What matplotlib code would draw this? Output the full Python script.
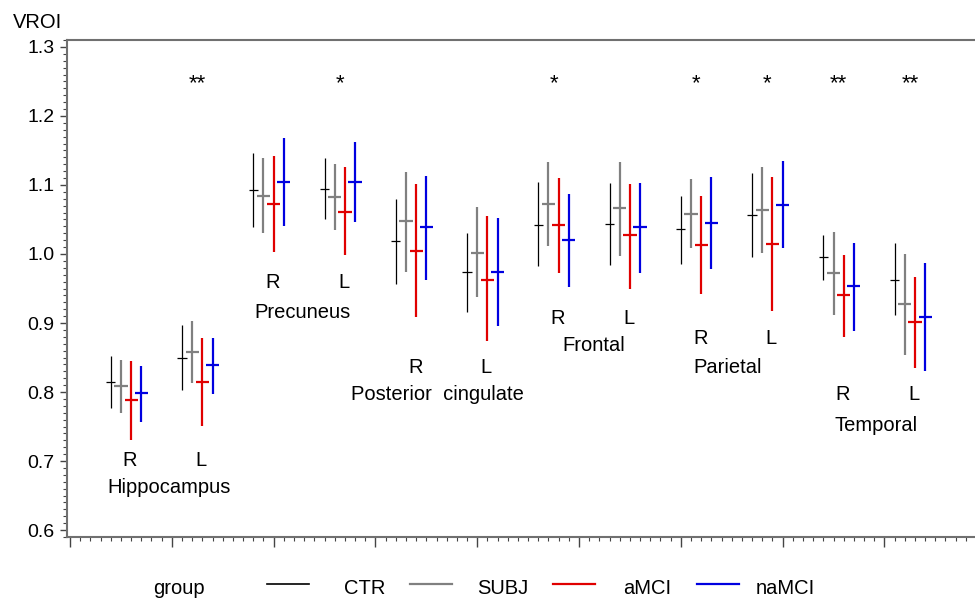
import numpy as np
import matplotlib
matplotlib.use('Agg')
import matplotlib.pyplot as plt
from matplotlib.lines import Line2D
from matplotlib.ticker import MultipleLocator, NullFormatter

plt.rcParams['font.family'] = ['Liberation Sans', 'DejaVu Sans']

# region / side order along the x axis
regions = ['Hippocampus', 'Precuneus', 'Posterior  cingulate', 'Frontal', 'Parietal', 'Temporal']
sides = ['R', 'L']
groups = ['CTR', 'SUBJ', 'aMCI', 'naMCI']

# means per group, 12 entries: Hipp R, Hipp L, Prec R, Prec L, PC R, PC L, Fr R, Fr L, Par R, Par L, Tem R, Tem L
ctr_mean = [0.815, 0.849, 1.092, 1.094, 1.019, 0.974, 1.042, 1.044, 1.036, 1.056, 0.995, 0.963]
ctr_lo = [0.777, 0.803, 1.039, 1.050, 0.957, 0.916, 0.982, 0.984, 0.985, 0.995, 0.962, 0.911]
ctr_hi = [0.852, 0.897, 1.146, 1.139, 1.079, 1.030, 1.105, 1.103, 1.084, 1.117, 1.028, 1.016]

subj_mean = [0.809, 0.858, 1.084, 1.083, 1.048, 1.002, 1.073, 1.066, 1.058, 1.064, 0.973, 0.927]
subj_lo = [0.769, 0.813, 1.031, 1.035, 0.974, 0.937, 1.012, 0.997, 1.009, 1.002, 0.911, 0.854]
subj_hi = [0.846, 0.903, 1.139, 1.130, 1.119, 1.068, 1.133, 1.133, 1.108, 1.126, 1.032, 1.000]

amci_mean = [0.788, 0.814, 1.072, 1.061, 1.005, 0.963, 1.042, 1.027, 1.013, 1.015, 0.940, 0.902]
amci_lo = [0.730, 0.751, 1.003, 0.998, 0.909, 0.874, 0.973, 0.950, 0.942, 0.917, 0.880, 0.835]
amci_hi = [0.845, 0.878, 1.142, 1.126, 1.102, 1.055, 1.110, 1.102, 1.084, 1.111, 0.999, 0.967]

namci_mean = [0.799, 0.839, 1.105, 1.104, 1.039, 0.974, 1.020, 1.039, 1.045, 1.071, 0.954, 0.909]
namci_lo = [0.757, 0.797, 1.040, 1.047, 0.962, 0.896, 0.952, 0.973, 0.978, 1.009, 0.889, 0.831]
namci_hi = [0.838, 0.878, 1.168, 1.162, 1.113, 1.052, 1.087, 1.103, 1.112, 1.134, 1.016, 0.987]

# significance stars per position
stars = ['', '**', '', '*', '', '', '*', '', '*', '*', '**', '**']

# label placement (R/L labels and region names)
side_label_y = [0.701, 0.701, 0.959, 0.959, 0.836, 0.836, 0.906, 0.906, 0.878, 0.878, 0.796, 0.796]
region_label_x = [9.75, 22.8, 36.1, 51.4, 64.6, 79.2]
region_label_y = [0.661, 0.915, 0.796, 0.867, 0.836, 0.752]

colors = ['black', '#808080', '#e00000', '#0000e0']
widths = [0.9, 1.6, 1.6, 1.6]
halfw = [0.45, 0.65, 0.65, 0.65]

fig = plt.figure(figsize=(9.75, 6.01), dpi=100)
ax = fig.add_axes([67 / 975, 1 - 537 / 601, 1 - 67 / 975, (537 - 40) / 601])

series = [(ctr_mean, ctr_lo, ctr_hi), (subj_mean, subj_lo, subj_hi),
          (amci_mean, amci_lo, amci_hi), (namci_mean, namci_lo, namci_hi)]
base = 4 + 7 * np.arange(12)
for g, (m, lo, hi) in enumerate(series):
    x = base + g
    ax.vlines(x, lo, hi, color=colors[g], lw=widths[g])
    ax.hlines(m, x - halfw[g], x + halfw[g], color=colors[g], lw=widths[g])

for i in range(12):
    c = base[i] + 1.5
    if stars[i]:
        ax.text(c, 1.247, stars[i], ha='center', va='center', fontsize=16)
    ax.text(c + 0.4, side_label_y[i], sides[i % 2], ha='center', va='center', fontsize=14.5)

for j, name in enumerate(regions):
    ax.text(region_label_x[j], region_label_y[j], name, ha='center', va='center', fontsize=14.5)

ax.set_xlim(-0.3, 88.9)
ax.set_ylim(0.59, 1.31)
ax.xaxis.set_major_locator(MultipleLocator(10))
ax.xaxis.set_minor_locator(MultipleLocator(1))
ax.xaxis.set_major_formatter(NullFormatter())
ax.yaxis.set_major_locator(MultipleLocator(0.1))
ax.yaxis.set_minor_locator(MultipleLocator(0.01))
ax.yaxis.set_major_formatter(plt.FuncFormatter(lambda v, p: '%.1f' % v))
ax.tick_params(axis='both', which='major', direction='out', length=5, width=1, color='#444444',
               labelsize=14, pad=4)
ax.tick_params(axis='both', which='minor', direction='out', length=3, width=0.8, color='#444444')
ax.tick_params(axis='x', which='major', length=7)
for s in ['left', 'bottom', 'top']:
    ax.spines[s].set_color('#707070')
    ax.spines[s].set_linewidth(1.5)
ax.spines['right'].set_visible(False)

fig.text(13 / 975, 1 - 23 / 601, 'VROI', fontsize=14.5, va='center', ha='left')

# legend drawn along the bottom
ly = 1 - 584 / 601
ty = 1 - 588 / 601
fig.text(179 / 975, ty, 'group', fontsize=14.5, ha='center', va='center')
leg_line_x = [267, 410, 553, 697]
leg_text_x = [365, 503, 647, 785]
for g in range(4):
    fig.add_artist(Line2D([leg_line_x[g] / 975, (leg_line_x[g] + 42) / 975], [ly, ly],
                          color=colors[g], lw=widths[g] if g else 1.2))
    fig.text(leg_text_x[g] / 975, ty, groups[g], fontsize=14.5, ha='center', va='center')

fig.savefig('out.png', dpi=100)
